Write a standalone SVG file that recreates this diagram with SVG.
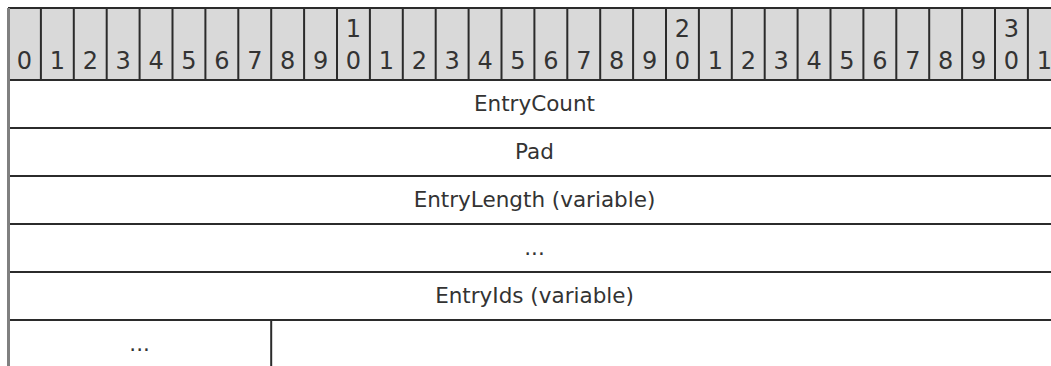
<svg xmlns="http://www.w3.org/2000/svg" width="1051" height="366" viewBox="0 0 1051 366">
<style>
.bg{fill:#ffffff}
.hdr{fill:#d9d9d9}
.ln{stroke:#2b2b2b;stroke-width:2;fill:none}
.lb{stroke:#808080;stroke-width:3;fill:none}
.num{font-family:"DejaVu Sans",Verdana,sans-serif;font-size:24px;fill:#333333;text-anchor:middle}
.lbl{font-family:"DejaVu Sans",Verdana,sans-serif;font-size:21.5px;fill:#333333;text-anchor:middle}
</style>
<rect class="bg" x="0" y="0" width="1051" height="366"/>
<g id="header">
<rect class="hdr" x="8" y="8" width="1060" height="72"/>
<path class="ln" d="M8 8H1068 M8 80H1068 M40.9 8V80 M73.8 8V80 M106.7 8V80 M139.6 8V80 M172.5 8V80 M205.4 8V80 M238.3 8V80 M271.2 8V80 M304.1 8V80 M337 8V80 M369.9 8V80 M402.8 8V80 M435.7 8V80 M468.6 8V80 M501.5 8V80 M534.4 8V80 M567.3 8V80 M600.2 8V80 M633.1 8V80 M666 8V80 M698.9 8V80 M731.8 8V80 M764.7 8V80 M797.6 8V80 M830.5 8V80 M863.4 8V80 M896.3 8V80 M929.2 8V80 M962.1 8V80 M995 8V80 M1027.9 8V80"/>
<text class="num" x="24.5" y="69">0</text>
<text class="num" x="57.4" y="69">1</text>
<text class="num" x="90.3" y="69">2</text>
<text class="num" x="123.2" y="69">3</text>
<text class="num" x="156.1" y="69">4</text>
<text class="num" x="189" y="69">5</text>
<text class="num" x="221.9" y="69">6</text>
<text class="num" x="254.8" y="69">7</text>
<text class="num" x="287.7" y="69">8</text>
<text class="num" x="320.6" y="69">9</text>
<text class="num" x="353.5" y="37">1</text>
<text class="num" x="353.5" y="69">0</text>
<text class="num" x="386.4" y="69">1</text>
<text class="num" x="419.3" y="69">2</text>
<text class="num" x="452.2" y="69">3</text>
<text class="num" x="485.1" y="69">4</text>
<text class="num" x="518" y="69">5</text>
<text class="num" x="550.9" y="69">6</text>
<text class="num" x="583.8" y="69">7</text>
<text class="num" x="616.7" y="69">8</text>
<text class="num" x="649.6" y="69">9</text>
<text class="num" x="682.5" y="37">2</text>
<text class="num" x="682.5" y="69">0</text>
<text class="num" x="715.4" y="69">1</text>
<text class="num" x="748.3" y="69">2</text>
<text class="num" x="781.2" y="69">3</text>
<text class="num" x="814.1" y="69">4</text>
<text class="num" x="847" y="69">5</text>
<text class="num" x="879.9" y="69">6</text>
<text class="num" x="912.8" y="69">7</text>
<text class="num" x="945.7" y="69">8</text>
<text class="num" x="978.6" y="69">9</text>
<text class="num" x="1011.5" y="37">3</text>
<text class="num" x="1011.5" y="69">0</text>
<text class="num" x="1044.4" y="69">1</text>
</g>
<g id="connectors">
<path class="ln" d="M8 128H1068 M8 176H1068 M8 224H1068 M8 272H1068 M8 320H1068 M271.2 320V366"/>
<path class="lb" d="M8.5 8V366"/>
</g>
<g id="field-entrycount"><text class="lbl" x="534.5" y="111">EntryCount</text></g>
<g id="field-pad"><text class="lbl" x="534.5" y="159">Pad</text></g>
<g id="field-entrylength"><text class="lbl" x="534.5" y="207">EntryLength (variable)</text></g>
<g id="field-ellipsis1"><text class="lbl" x="534.5" y="255">...</text></g>
<g id="field-entryids"><text class="lbl" x="534.5" y="303">EntryIds (variable)</text></g>
<g id="field-ellipsis2"><text class="lbl" x="139.6" y="351">...</text></g>
</svg>
